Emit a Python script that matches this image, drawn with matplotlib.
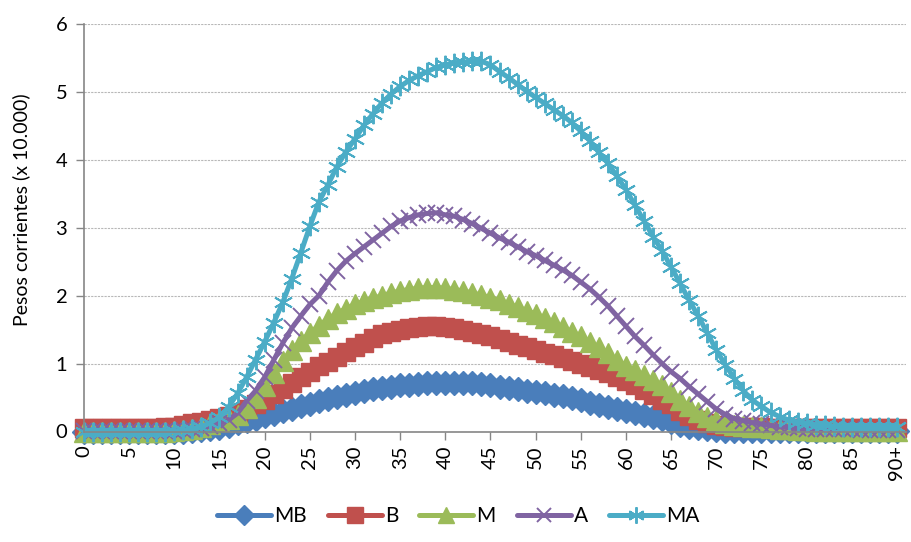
import matplotlib
matplotlib.use("Agg")
import matplotlib.pyplot as plt
import numpy as np

# ages 0..90 (last one is "90+"), values in units of 10.000 pesos
ages = list(range(91))
tick_pos = list(range(0, 91, 5))
tick_labels = [str(a) for a in range(0, 90, 5)] + ["90+"]

mb = [0.0, 0.0, 0.0, 0.0, 0.0, 0.0, 0.0, 0.0, 0.0, 0.0,
      0.0, 0.0, 0.01, 0.02, 0.03, 0.05, 0.08, 0.12, 0.16, 0.19,
      0.23, 0.26, 0.30, 0.33, 0.37, 0.41, 0.45, 0.48, 0.51, 0.54,
      0.57, 0.60, 0.62, 0.64, 0.66, 0.68, 0.69, 0.70, 0.71, 0.72,
      0.72, 0.72, 0.72, 0.71, 0.70, 0.68, 0.66, 0.64, 0.62, 0.60,
      0.58, 0.56, 0.54, 0.52, 0.49, 0.46, 0.42, 0.39, 0.36, 0.33,
      0.30, 0.27, 0.24, 0.21, 0.18, 0.14, 0.10, 0.07, 0.05, 0.03,
      0.02, 0.01, 0.01, 0.01, 0.01, 0.01, 0.01, 0.01, 0.01, 0.01,
      0.01, 0.01, 0.01, 0.01, 0.01, 0.01, 0.01, 0.01, 0.01, 0.01,
      0.01]

b = [0.05, 0.05, 0.05, 0.05, 0.05, 0.05, 0.05, 0.05, 0.05, 0.06,
     0.07, 0.09, 0.12, 0.14, 0.17, 0.20, 0.23, 0.27, 0.33, 0.40,
     0.47, 0.55, 0.63, 0.71, 0.80, 0.88, 0.96, 1.03, 1.10, 1.17,
     1.24, 1.31, 1.38, 1.43, 1.47, 1.50, 1.52, 1.54, 1.55, 1.55,
     1.54, 1.52, 1.50, 1.47, 1.44, 1.40, 1.36, 1.32, 1.28, 1.24,
     1.20, 1.16, 1.12, 1.08, 1.04, 0.99, 0.95, 0.91, 0.86, 0.80,
     0.74, 0.68, 0.61, 0.54, 0.47, 0.40, 0.30, 0.23, 0.17, 0.12,
     0.10, 0.08, 0.07, 0.06, 0.06, 0.06, 0.05, 0.05, 0.05, 0.05,
     0.05, 0.05, 0.05, 0.05, 0.05, 0.05, 0.05, 0.05, 0.05, 0.05,
     0.05]

m = [0.0, 0.0, 0.0, 0.0, 0.0, 0.0, 0.0, 0.0, 0.0, 0.0,
     0.01, 0.02, 0.04, 0.07, 0.11, 0.15, 0.19, 0.24, 0.35, 0.50,
     0.67, 0.86, 1.04, 1.20, 1.33, 1.45, 1.56, 1.66, 1.74, 1.81,
     1.87, 1.92, 1.96, 2.00, 2.04, 2.07, 2.09, 2.11, 2.12, 2.12,
     2.11, 2.09, 2.07, 2.04, 2.01, 1.97, 1.93, 1.88, 1.83, 1.78,
     1.73, 1.67, 1.61, 1.54, 1.47, 1.40, 1.32, 1.24, 1.15, 1.05,
     0.97, 0.90, 0.83, 0.76, 0.68, 0.58, 0.47, 0.37, 0.29, 0.22,
     0.17, 0.13, 0.10, 0.08, 0.07, 0.06, 0.05, 0.04, 0.03, 0.02,
     0.02, 0.01, 0.01, 0.01, 0.01, 0.01, 0.01, 0.01, 0.01, 0.01,
     0.01]

a = [0.01, 0.01, 0.01, 0.01, 0.01, 0.01, 0.01, 0.01, 0.01, 0.01,
     0.01, 0.02, 0.03, 0.05, 0.08, 0.12, 0.17, 0.27, 0.45, 0.60,
     0.80, 1.05, 1.30, 1.52, 1.70, 1.87, 2.00, 2.20, 2.37, 2.51,
     2.62, 2.72, 2.82, 2.92, 3.02, 3.10, 3.15, 3.19, 3.21, 3.22,
     3.19, 3.17, 3.12, 3.06, 2.99, 2.92, 2.85, 2.79, 2.72, 2.65,
     2.59, 2.52, 2.45, 2.38, 2.30, 2.20, 2.10, 1.98, 1.85, 1.70,
     1.55, 1.40, 1.27, 1.13, 1.00, 0.88, 0.78, 0.66, 0.55, 0.44,
     0.33, 0.25, 0.19, 0.16, 0.13, 0.11, 0.09, 0.07, 0.06, 0.05,
     0.04, 0.04, 0.03, 0.03, 0.03, 0.03, 0.02, 0.02, 0.02, 0.02,
     0.02]

ma = [0.0, 0.0, 0.0, 0.0, 0.0, 0.0, 0.0, 0.0, 0.0, 0.0,
      0.01, 0.02, 0.04, 0.07, 0.13, 0.21, 0.36, 0.56, 0.80, 1.06,
      1.32, 1.60, 1.90, 2.25, 2.63, 3.02, 3.38, 3.63, 3.90, 4.12,
      4.31, 4.51, 4.68, 4.84, 4.97, 5.08, 5.17, 5.24, 5.30, 5.36,
      5.40, 5.43, 5.44, 5.45, 5.45, 5.40, 5.30, 5.21, 5.11, 5.01,
      4.92, 4.83, 4.74, 4.65, 4.55, 4.42, 4.28, 4.11, 3.95, 3.76,
      3.56, 3.33, 3.10, 2.87, 2.66, 2.42, 2.18, 1.93, 1.70, 1.45,
      1.20, 0.98, 0.78, 0.60, 0.46, 0.37, 0.28, 0.22, 0.17, 0.14,
      0.12, 0.10, 0.09, 0.08, 0.07, 0.07, 0.06, 0.06, 0.06, 0.06,
      0.06]

series = [
    ("MB", mb, "#4a7ebb", "D", 12.5, 1.0),
    ("B", b, "#c0504d", "s", 13, 1.0),
    ("M", m, "#9bbb59", "^", 14, 1.0),
    ("A", a, "#8064a2", "x", 11.5, 1.4),
    ("MA", ma, "#4bacc6", (6, 2, 0), 14, 1.4),
]

plt.rcParams['font.family'] = ['Lato', 'DejaVu Sans']

fig = plt.figure(figsize=(9.11, 5.42), dpi=100)
ax = fig.add_axes([84 / 911, 1 - 431.5 / 542, 822 / 911, (431.5 - 24) / 542])

for name, vals, col, mk, ms, mew in series:
    ax.plot(ages, vals, color=col, lw=3.6, marker=mk, ms=ms,
            mfc=col, mec=col, mew=mew, label=name, clip_on=False,
            solid_capstyle='round')

ax.set_xlim(0, 91)
ax.set_ylim(0, 6)
ax.set_yticks(range(7))
ax.set_xticks(tick_pos)
ax.set_xticklabels(tick_labels, rotation=90, va='top', ha='center')
ax.tick_params(axis='both', labelsize=14.5, color='#868686', length=6,
               width=1, direction='out')
ax.tick_params(axis='x', pad=4)
ax.tick_params(axis='y', pad=6)

ax.grid(axis='y', color='#b8b8b8', lw=0.8, ls=(0, (2, 1)))
ax.set_axisbelow(True)
for s in ['top', 'right']:
    ax.spines[s].set_visible(False)
for s in ['left', 'bottom']:
    ax.spines[s].set_color('#868686')
    ax.spines[s].set_linewidth(1.2)

ax.set_ylabel("Pesos corrientes (x 10.000)", fontsize=14)
ax.yaxis.set_label_coords(-0.066, 0.545)

leg = fig.legend(loc='center', bbox_to_anchor=(0.503, 1 - 516 / 542), ncol=5,
                 frameon=False, fontsize=15, handlelength=2.6,
                 handletextpad=0.15, columnspacing=1.0, markerscale=0.85)

fig.savefig("out.png", dpi=100)
